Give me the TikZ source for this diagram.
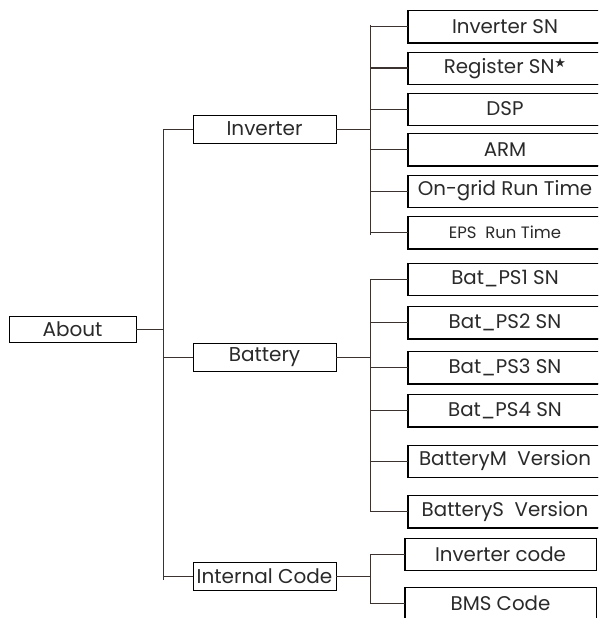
\documentclass[tikz,border=0pt]{standalone}
\usepackage{fontspec}
\setmainfont{Poppins}
\newfontfamily\symf{DejaVu Sans}
\definecolor{conn}{HTML}{3A3330}
\definecolor{txt}{HTML}{2A2A2A}
\begin{document}
\begin{tikzpicture}[x=1pt,y=-1pt,
  box/.style={draw=black, line width=0.9pt, inner sep=0pt, text=txt},
  top/.style={box, minimum width=143pt, minimum height=28pt, font=\fontsize{20}{20}\selectfont},
  leaf/.style={box, minimum width=194pt, minimum height=32pt, font=\fontsize{19.8}{20}\selectfont},
  leafc/.style={box, minimum width=191pt, minimum height=32pt, font=\fontsize{19.8}{20}\selectfont},
  heavy/.style={draw=black, line width=1.8pt},
  wire/.style={draw=conn, line width=1pt}]
\useasboundingbox (0,0) rectangle (598,618);
\clip (0,0) rectangle (598,618);
\fill[white] (0,0) rectangle (598,618);

% first level
\node[box, minimum width=127pt, minimum height=26pt, font=\fontsize{20}{20}\selectfont] (about) at (72.5,329.5) {About};
\node[top] (inv) at (264.5,129) {Inverter};
\node[top] (bat) at (264.5,357.5) {Battery};
\node[top] (ic) at (264.5,576) {Internal Code};

% inverter leaves
\node[leaf] (isn) at (505,26.5) {Inverter SN};
\node[leaf] (rsn) at (505,68) {Register SN\raisebox{6pt}{\symf\fontsize{13}{13}\selectfont ★}};
\node[leaf] (dsp) at (505,109) {DSP};
\node[leaf] (arm) at (505,149.5) {ARM};
\node[leaf] (ogr) at (505,191) {On-grid Run Time};
\node[leaf, font=\fontsize{16.5}{17}\selectfont] (eps) at (505,232.5) {EPS\ \ Run Time};

% battery leaves
\node[leaf] (p1) at (505,279) {Bat\_PS1 SN};
\node[leaf] (p2) at (505,322.5) {Bat\_PS2 SN};
\node[leaf] (p3) at (505,367.5) {Bat\_PS3 SN};
\node[leaf] (p4) at (505,410.5) {Bat\_PS4 SN};
\node[leaf] (bm) at (505,461) {BatteryM\ \ Version};
\node[leaf] (bs) at (505,511.5) {BatteryS\ \ Version};

% internal code leaves
\node[leafc] (icode) at (500.5,554) {Inverter code};
\node[leafc] (bms) at (500.5,603.5) {BMS Code};

\foreach \n in {isn,rsn,dsp,arm,ogr,eps,p1,p2,p3,p4,bm,bs,icode,bms}
  \draw[heavy] (\n.north west) -- (\n.south west) -- (\n.south east);

% trunk
\coordinate (t1) at (163,129);
\coordinate (t2) at (163,580);
\path[wire] (t1) -- (t2);
\path[wire] (about.east) -- (about.east -| t1);
\path[wire] (t1) -- (inv.west);
\path[wire] (bat.west -| t1) -- (bat.west);
\path[wire] (ic.west -| t1) -- (ic.west);

% inverter branch
\coordinate (a1) at (370,25);
\coordinate (a2) at (370,235);
\path[wire] (a1) -- (a2);
\path[wire] (inv.east) -- (inv.east -| a1);
\foreach \n in {isn,rsn,dsp,arm,ogr,eps}
  \path[wire] (\n.west -| a1) -- (\n.west);

% battery branch
\coordinate (b1) at (370,279);
\coordinate (b2) at (370,511.5);
\path[wire] (b1) -- (b2);
\path[wire] (bat.east) -- (bat.east -| b1);
\foreach \n in {p1,p2,p3,p4,bm,bs}
  \path[wire] (\n.west -| b1) -- (\n.west);

% internal code branch
\coordinate (c1) at (370,554);
\coordinate (c2) at (370,603.5);
\path[wire] (c1) -- (c2);
\path[wire] (ic.east) -- (ic.east -| c1);
\foreach \n in {icode,bms}
  \path[wire] (\n.west -| c1) -- (\n.west);
\end{tikzpicture}
\end{document}
